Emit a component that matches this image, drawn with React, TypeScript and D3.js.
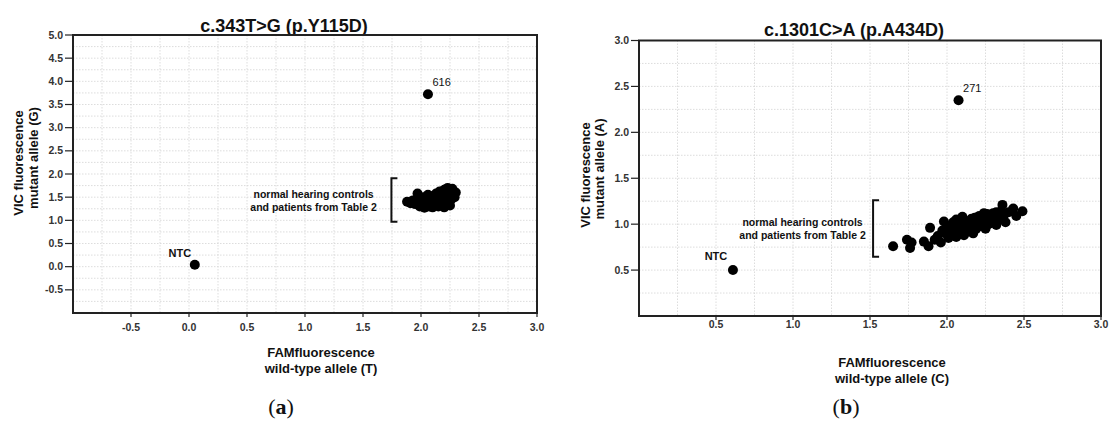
import React from 'react';
import * as d3 from 'd3';

// panel (a) c.343T>G
const aCluster: [number, number][] = [
  [1.88, 1.40], [1.91, 1.37], [1.93, 1.43], [1.95, 1.35], [1.97, 1.58], [1.98, 1.46], [1.99, 1.30],
  [2.00, 1.40], [2.01, 1.33], [2.02, 1.50], [2.03, 1.27], [2.04, 1.42], [2.05, 1.36], [2.06, 1.55],
  [2.07, 1.30], [2.08, 1.46], [2.09, 1.38], [2.10, 1.28], [2.10, 1.52], [2.11, 1.42], [2.12, 1.34],
  [2.13, 1.58], [2.14, 1.47], [2.15, 1.30], [2.15, 1.39], [2.16, 1.62], [2.17, 1.52], [2.18, 1.44],
  [2.19, 1.35], [2.20, 1.66], [2.20, 1.28], [2.21, 1.56], [2.22, 1.48], [2.23, 1.40], [2.24, 1.62],
  [2.25, 1.32], [2.25, 1.53], [2.26, 1.45], [2.27, 1.68], [2.28, 1.58], [2.29, 1.50], [2.30, 1.60],
  [2.23, 1.70], [2.18, 1.60], [2.12, 1.48], [2.07, 1.40], [2.02, 1.36], [1.96, 1.42],
];
const aNTC: [number, number] = [0.05, 0.04];
const aSample: [number, number] = [2.06, 3.72];
const aSampleLabel = '616';
const aBracket = { x: 1.745, y0: 0.97, y1: 1.91 };
const aXTicks = [-0.5, 0, 0.5, 1, 1.5, 2, 2.5, 3];
const aYTicks = [-0.5, 0, 0.5, 1, 1.5, 2, 2.5, 3, 3.5, 4, 4.5, 5];

// panel (b) c.1301C>A
const bCluster: [number, number][] = [
  [1.65, 0.76], [1.74, 0.83], [1.77, 0.80], [1.76, 0.74], [1.85, 0.81], [1.88, 0.76], [1.89, 0.96],
  [1.92, 0.83], [1.94, 0.87], [1.96, 0.80], [1.98, 1.03], [1.99, 0.90], [2.00, 0.94], [2.01, 0.85],
  [2.02, 0.98], [2.03, 0.88], [2.04, 1.02], [2.05, 0.92], [2.06, 0.86], [2.06, 1.05], [2.07, 0.97],
  [2.08, 0.90], [2.09, 1.01], [2.10, 1.08], [2.10, 0.94], [2.11, 0.88], [2.12, 0.99], [2.13, 1.03],
  [2.14, 0.92], [2.15, 0.97], [2.16, 1.06], [2.17, 0.90], [2.18, 1.00], [2.19, 0.95], [2.20, 1.04],
  [2.21, 1.09], [2.22, 0.98], [2.23, 1.02], [2.24, 1.12], [2.25, 0.95], [2.26, 1.06], [2.27, 1.00],
  [2.28, 1.09], [2.29, 1.04], [2.30, 1.12], [2.31, 1.07], [2.32, 0.99], [2.33, 1.10], [2.34, 1.05],
  [2.36, 1.21], [2.37, 1.10], [2.38, 1.02], [2.40, 1.13], [2.43, 1.17], [2.45, 1.09], [2.49, 1.14],
  [2.03, 0.95], [2.08, 1.04], [2.13, 0.96], [2.18, 1.07], [2.23, 1.08], [2.28, 1.02], [2.35, 1.14],
  [1.97, 0.93], [2.11, 1.02], [2.16, 1.00], [2.26, 1.11], [2.32, 1.13],
];
const bNTC: [number, number] = [0.61, 0.5];
const bSample: [number, number] = [2.075, 2.35];
const bSampleLabel = '271';
const bBracket = { x: 1.52, y0: 0.645, y1: 1.26 };
const bXTicks = [0.5, 1, 1.5, 2, 2.5, 3];
const bYTicks = [0.5, 1, 1.5, 2, 2.5, 3];

const noteLines = ['normal hearing controls', 'and patients from Table 2'];
const sans = "'Liberation Sans', Arial, sans-serif";

type PanelProps = {
  title: string;
  titleX: number;
  titleY: number;
  frame: { x0: number; x1: number; y0: number; y1: number };
  xDomain: [number, number];
  yDomain: [number, number];
  xTicks: number[];
  yTicks: number[];
  xTickGap: number;
  cluster: [number, number][];
  ntc: [number, number];
  ntcOffset: [number, number];
  sample: [number, number];
  sampleLabel: string;
  bracket: { x: number; y0: number; y1: number };
  note: { x: number; y: number };
  yLabel: string[];
  yLabelPos: { x: number; y: number }[];
  xLabel: string[];
  xLabelPos: { x: number; y: number }[];
  caption: string;
  captionX: number;
};

const Panel = (p: PanelProps) => {
  const { x0, x1, y0, y1 } = p.frame;
  const x = d3.scaleLinear().domain(p.xDomain).range([x0, x1]);
  const y = d3.scaleLinear().domain(p.yDomain).range([y1, y0]);
  const gx = d3.range(p.xDomain[0], p.xDomain[1] + 1e-6, 0.25);
  const gy = d3.range(p.yDomain[0], p.yDomain[1] + 1e-6, 0.25);
  const r = 5;
  const bx = x(p.bracket.x);
  const by0 = y(p.bracket.y0);
  const by1 = y(p.bracket.y1);
  return (
    <g>
      <text x={p.titleX} y={p.titleY} textAnchor="middle" fontFamily={sans} fontWeight="bold" fontSize={18} fill="#111">
        {p.title}
      </text>
      <g stroke="#d4d4d4" strokeWidth={0.8} strokeDasharray="1.5,1.5">
        {gx.map((v) => (
          <line key={'gx' + v} x1={x(v)} x2={x(v)} y1={y0} y2={y1} />
        ))}
        {gy.map((v) => (
          <line key={'gy' + v} x1={x0} x2={x1} y1={y(v)} y2={y(v)} />
        ))}
      </g>
      <rect x={x0} y={y0} width={x1 - x0} height={y1 - y0} fill="none" stroke="#222" strokeWidth={2} />
      {p.yTicks.map((v) => (
        <g key={'yt' + v}>
          <line x1={x0 - 8} x2={x0} y1={y(v)} y2={y(v)} stroke="#222" strokeWidth={1.2} />
          <text x={x0 - 10} y={y(v) + 3.5} textAnchor="end" fontFamily={sans} fontWeight="bold" fontSize={10.5} fill="#333">
            {v.toFixed(1)}
          </text>
        </g>
      ))}
      {p.xTicks.map((v) => (
        <g key={'xt' + v}>
          <line x1={x(v)} x2={x(v)} y1={y1} y2={y1 + 4} stroke="#222" strokeWidth={1.2} />
          <text x={x(v)} y={y1 + p.xTickGap} textAnchor="middle" fontFamily={sans} fontWeight="bold" fontSize={10.5} fill="#333">
            {v.toFixed(1)}
          </text>
        </g>
      ))}
      {p.yLabel.map((t, i) => (
        <text
          key={'yl' + i}
          transform={`translate(${p.yLabelPos[i].x},${p.yLabelPos[i].y}) rotate(-90)`}
          textAnchor="middle"
          fontFamily={sans}
          fontWeight="bold"
          fontSize={13}
          fill="#111"
        >
          {t}
        </text>
      ))}
      {p.xLabel.map((t, i) => (
        <text key={'xl' + i} x={p.xLabelPos[i].x} y={p.xLabelPos[i].y} textAnchor="middle" fontFamily={sans} fontWeight="bold" fontSize={13} fill="#111">
          {t}
        </text>
      ))}
      <path d={`M${bx + 6},${by1}H${bx}V${by0}H${bx + 6}`} fill="none" stroke="#111" strokeWidth={2} />
      {noteLines.map((t, i) => (
        <text key={'n' + i} x={x(p.note.x)} y={y(p.note.y) + i * 12.5} textAnchor="middle" fontFamily={sans} fontWeight="bold" fontSize={10.5} fill="#111">
          {t}
        </text>
      ))}
      <g fill="#000">
        {p.cluster.map((d, i) => (
          <circle key={'c' + i} cx={x(d[0])} cy={y(d[1])} r={r} />
        ))}
        <circle cx={x(p.ntc[0])} cy={y(p.ntc[1])} r={r} />
        <circle cx={x(p.sample[0])} cy={y(p.sample[1])} r={r} />
      </g>
      <text x={x(p.ntc[0]) + p.ntcOffset[0]} y={y(p.ntc[1]) - p.ntcOffset[1]} textAnchor="middle" fontFamily={sans} fontWeight="bold" fontSize={11} fill="#111">
        NTC
      </text>
      <text x={x(p.sample[0]) + 4.5} y={y(p.sample[1]) - 8} fontFamily={sans} fontSize={11} fill="#111">
        {p.sampleLabel}
      </text>
      <text x={p.captionX} y={414} textAnchor="middle" fontFamily="'Liberation Serif', 'Times New Roman', serif" fontSize={22} fill="#111">
        (<tspan fontWeight="bold">{p.caption}</tspan>)
      </text>
    </g>
  );
};

const App = () => {
  return (
    <svg width={1110} height={421} style={{ position: 'absolute', left: 0, top: 0, background: '#fff' }}>
      <rect width={1110} height={421} fill="#fff" />
      <Panel
        title="c.343T>G (p.Y115D)"
        titleX={284}
        titleY={32}
        frame={{ x0: 73, x1: 537, y0: 35, y1: 313 }}
        xDomain={[-1, 3]}
        yDomain={[-1, 5]}
        xTicks={aXTicks}
        yTicks={aYTicks}
        xTickGap={18}
        cluster={aCluster}
        ntc={aNTC}
        ntcOffset={[-15, 8]}
        sample={aSample}
        sampleLabel={aSampleLabel}
        bracket={aBracket}
        note={{ x: 1.074, y: 1.48 }}
        yLabel={['VIC fluorescence', 'mutant allele (G)']}
        yLabelPos={[{ x: 23, y: 163 }, { x: 38, y: 158 }]}
        xLabel={['FAMfluorescence', 'wild-type allele (T)']}
        xLabelPos={[{ x: 321, y: 357 }, { x: 321, y: 373 }]}
        caption="a"
        captionX={281}
      />
      <Panel
        title="c.1301C>A (p.A434D)"
        titleX={854}
        titleY={35.5}
        frame={{ x0: 639, x1: 1101, y0: 40.5, y1: 316 }}
        xDomain={[0, 3]}
        yDomain={[0, 3]}
        xTicks={bXTicks}
        yTicks={bYTicks}
        xTickGap={12}
        cluster={bCluster}
        ntc={bNTC}
        ntcOffset={[-17, 10]}
        sample={bSample}
        sampleLabel={bSampleLabel}
        bracket={bBracket}
        note={{ x: 1.062, y: 0.98 }}
        yLabel={['VIC fluorescence', 'mutant allele (A)']}
        yLabelPos={[{ x: 590, y: 175 }, { x: 604, y: 169 }]}
        xLabel={['FAMfluorescence', 'wild-type allele (C)']}
        xLabelPos={[{ x: 892, y: 367 }, { x: 892, y: 383 }]}
        caption="b"
        captionX={846}
      />
    </svg>
  );
};

export default App;
